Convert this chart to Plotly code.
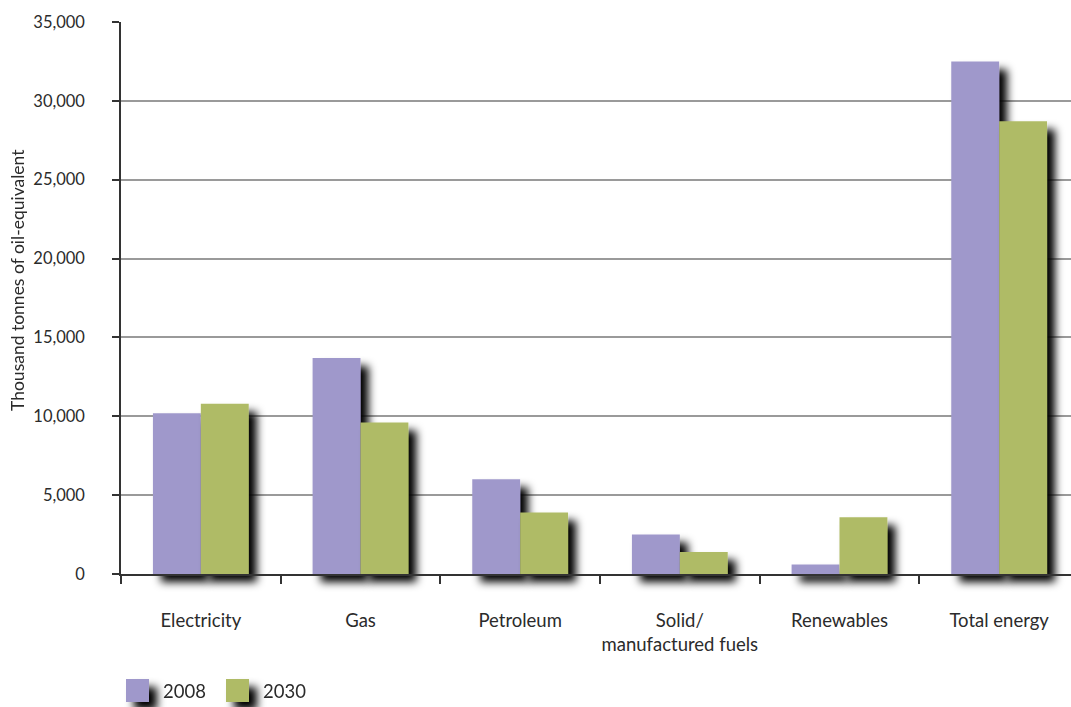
import plotly.graph_objects as go

# Final energy consumption by fuel, 2008 vs 2030
categories = ["Electricity", "Gas", "Petroleum", "Solid/<br>manufactured fuels",
              "Renewables", "Total energy"]
values_2008 = [10200, 13700, 6000, 2500, 600, 32500]
values_2030 = [10800, 9600, 3900, 1400, 3600, 28700]
series_names = ["2008", "2030"]
y_ticks = [0, 5000, 10000, 15000, 20000, 25000, 30000, 35000]
y_title = "Thousand tonnes of oil-equivalent"

PURPLE = "#9F98CB"
GREEN = "#AFBB66"
TEXT = "#2b2b2b"
FONT = "Lato"

W, H = 1071, 707
ML, MR, MT, MB = 121, 0, 22, 133
PW, PH = W - ML - MR, H - MT - MB


def px(x):
    return (x - ML) / PW


def py(y):
    return (H - MB - y) / PH


fig = go.Figure()
for name, vals, col in [(series_names[0], values_2008, PURPLE),
                        (series_names[1], values_2030, GREEN)]:
    fig.add_trace(go.Bar(
        x=categories, y=vals, name=name, marker=dict(color=col, line=dict(width=0)),
        cliponaxis=False, showlegend=False,
    ))

# legend: swatches and labels
legend_items = [(126, series_names[0], PURPLE), (226, series_names[1], GREEN)]
shapes = []
annotations = []
for x0, name, col in legend_items:
    shapes.append(dict(type="rect", xref="paper", yref="paper",
                       x0=px(x0), x1=px(x0 + 23), y0=py(702), y1=py(679),
                       fillcolor=col, line=dict(width=0), layer="above"))
    annotations.append(dict(text=name, xref="paper", yref="paper",
                            x=px(x0 + 35), y=py(691), xanchor="left", yanchor="middle",
                            showarrow=False, font=dict(family=FONT, size=18.5, color=TEXT)))

annotations.append(dict(text=y_title, xref="paper", yref="paper",
                        x=px(17), y=py(280), textangle=-90,
                        xanchor="center", yanchor="middle", showarrow=False,
                        font=dict(family=FONT, size=17.5, color=TEXT)))

fig.update_layout(
    width=W, height=H,
    margin=dict(l=ML, r=MR, t=MT, b=MB, pad=0, autoexpand=False),
    paper_bgcolor="white", plot_bgcolor="white",
    barmode="group", bargap=0.4, bargroupgap=0,
    font=dict(family=FONT, size=17, color=TEXT),
    shapes=shapes, annotations=annotations,
    xaxis=dict(
        range=[-0.5, 5.45], showline=True, linecolor="#333", linewidth=1.5,
        ticks="outside", tickson="boundaries", ticklen=8, tickcolor="#333",
        tickwidth=1.5, showgrid=False, ticklabelstandoff=29,
        tickangle=0, automargin=False,
        tickfont=dict(family=FONT, size=18.5, color=TEXT),
    ),
    yaxis=dict(
        range=[0, 35000], tickvals=y_ticks,
        ticktext=[f"{v:,}" for v in y_ticks],
        showline=True, linecolor="#333", linewidth=1.5,
        ticks="outside", ticklen=7, tickcolor="#333", tickwidth=1.5,
        showgrid=True, gridcolor="#9a9a9a", gridwidth=1.5, zeroline=False,
        ticklabelstandoff=24, automargin=False,
        tickfont=dict(family=FONT, size=16.5, color=TEXT),
    ),
)

shadow_js = """
var gd = document.getElementById('{plot_id}');
function addShadows() {
  var svg = gd.querySelector('svg.main-svg');
  if (!svg) return;
  var ns = 'http://www.w3.org/2000/svg';
  if (!document.getElementById('barshadow')) {
    var defs = svg.querySelector('defs');
    if (!defs) { defs = document.createElementNS(ns, 'defs'); svg.insertBefore(defs, svg.firstChild); }
    var f = document.createElementNS(ns, 'filter');
    f.setAttribute('id', 'barshadow');
    f.setAttribute('filterUnits', 'userSpaceOnUse');
    f.setAttribute('x', '-500'); f.setAttribute('y', '-500');
    f.setAttribute('width', '3000'); f.setAttribute('height', '3000');
    var d = document.createElementNS(ns, 'feDropShadow');
    d.setAttribute('dx', '8'); d.setAttribute('dy', '8');
    d.setAttribute('stdDeviation', '4');
    d.setAttribute('flood-color', '#000');
    d.setAttribute('flood-opacity', '1');
    f.appendChild(d);
    defs.appendChild(f);
  }
  gd.querySelectorAll('.plot').forEach(function (g) { g.removeAttribute('clip-path'); });
  gd.querySelectorAll('.barlayer .trace').forEach(function (g) {
    g.removeAttribute('clip-path');
    g.setAttribute('filter', 'url(#barshadow)');
  });
  gd.querySelectorAll('.shapelayer path').forEach(function (p) {
    p.setAttribute('filter', 'url(#barshadow)');
  });
}
addShadows();
gd.on('plotly_afterplot', addShadows);
"""

fig.write_html("out.html", post_script=shadow_js)
